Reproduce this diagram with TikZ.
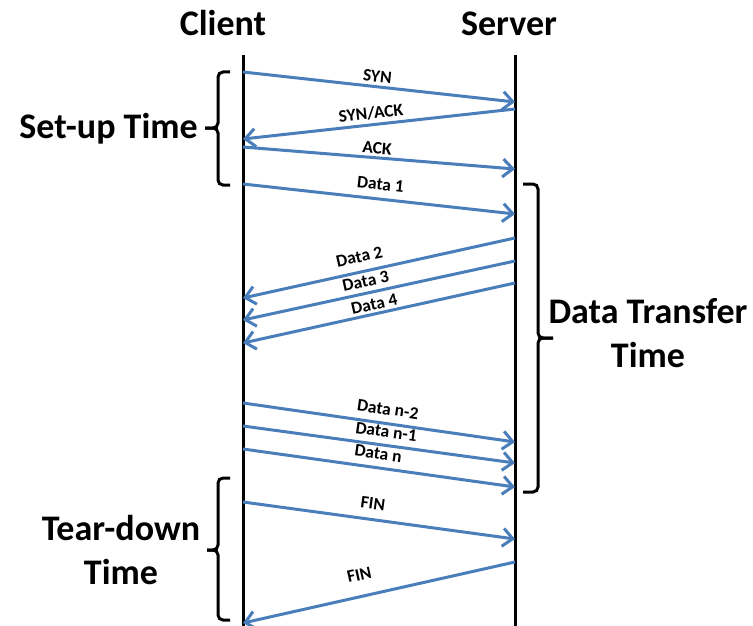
\documentclass[tikz,border=0pt]{standalone}
\usepackage{fontspec}
\setmainfont{Carlito}
\usetikzlibrary{arrows.meta}
\definecolor{msgblue}{RGB}{74,126,187}
\newcommand{\bigfont}{\fontsize{36}{44}\selectfont\bfseries}
\newcommand{\msgfont}{\fontsize{17.5}{20}\selectfont\bfseries}
\tikzset{
  lifeline/.style={line width=3pt},
  msg/.style={draw=msgblue, line width=3pt, -{Straight Barb[length=10pt,width=18pt]}},
  msglabel/.style={sloped, font=\msgfont, inner sep=1.5pt},
  bracket/.style={line width=3pt, rounded corners=5pt},
}

\begin{document}
\begin{tikzpicture}[x=1pt, y=-1pt]
\useasboundingbox (0,0) rectangle (753,626);
\node[font=\bigfont, anchor=base] (client) at (223,36) {Client};
\node[font=\bigfont, anchor=base] (server) at (509,36) {Server};
\coordinate (c top) at (243,55);
\coordinate (c bot) at (243,626);
\coordinate (s top) at (515,55);
\coordinate (s bot) at (515,626);
\draw[lifeline] (c top) -- (c bot);
\draw[lifeline] (s top) -- (s bot);

% client to server
\foreach \ya/\yb/\p/\d/\txt [count=\i] in {72/102/.49/1.5/SYN, 147/169/.49/1/ACK, 184/214/.5/6/Data 1, 403/442/.525/5.5/Data n-2, 426/463/.52/5/Data n-1, 449/487/.49/5.5/Data n, 502/539/.47/7/FIN}{
  \coordinate (cs\i) at (243,\ya);
  \coordinate (ss\i) at (515,\yb);
  \draw[msg] (cs\i) -- node[msglabel, pos=\p, above=\d pt] {\txt} (ss\i);
}
% server to client
\foreach \ya/\yb/\p/\d/\txt [count=\i] in {109/139/.525/2/{SYN/ACK}, 238/298/.56/6.5/Data 2, 261/320/.54/3/Data 3, 283/343/.51/1/Data 4, 562/623/.555/13/FIN}{
  \coordinate (sc\i) at (515,\ya);
  \coordinate (cc\i) at (243,\yb);
  \draw[msg] (sc\i) -- node[msglabel, pos=\p, above=\d pt] {\txt} (cc\i);
}

% brackets
\draw[bracket] (230,72) -| (218,128) -- (205,128);
\draw[bracket] (230,185) -| (218,128) -- (205,128);
\draw[bracket] (523,184) -| (538,338) -- (553,338);
\draw[bracket] (523,492) -| (538,338) -- (553,338);
\draw[bracket] (230,478) -| (218,550) -- (207,550);
\draw[bracket] (230,620) -| (218,550) -- (207,550);

\node[font=\bigfont, anchor=base east, inner sep=0pt] (setup) at (198,139) {Set-up Time};
\node[font=\bigfont, align=center, inner sep=0pt] (transfer) at (648,333) {Data Transfer\\Time};
\node[font=\bigfont, align=center, inner sep=0pt] (teardown) at (121,550) {Tear-down\\Time};
\end{tikzpicture}
\end{document}
